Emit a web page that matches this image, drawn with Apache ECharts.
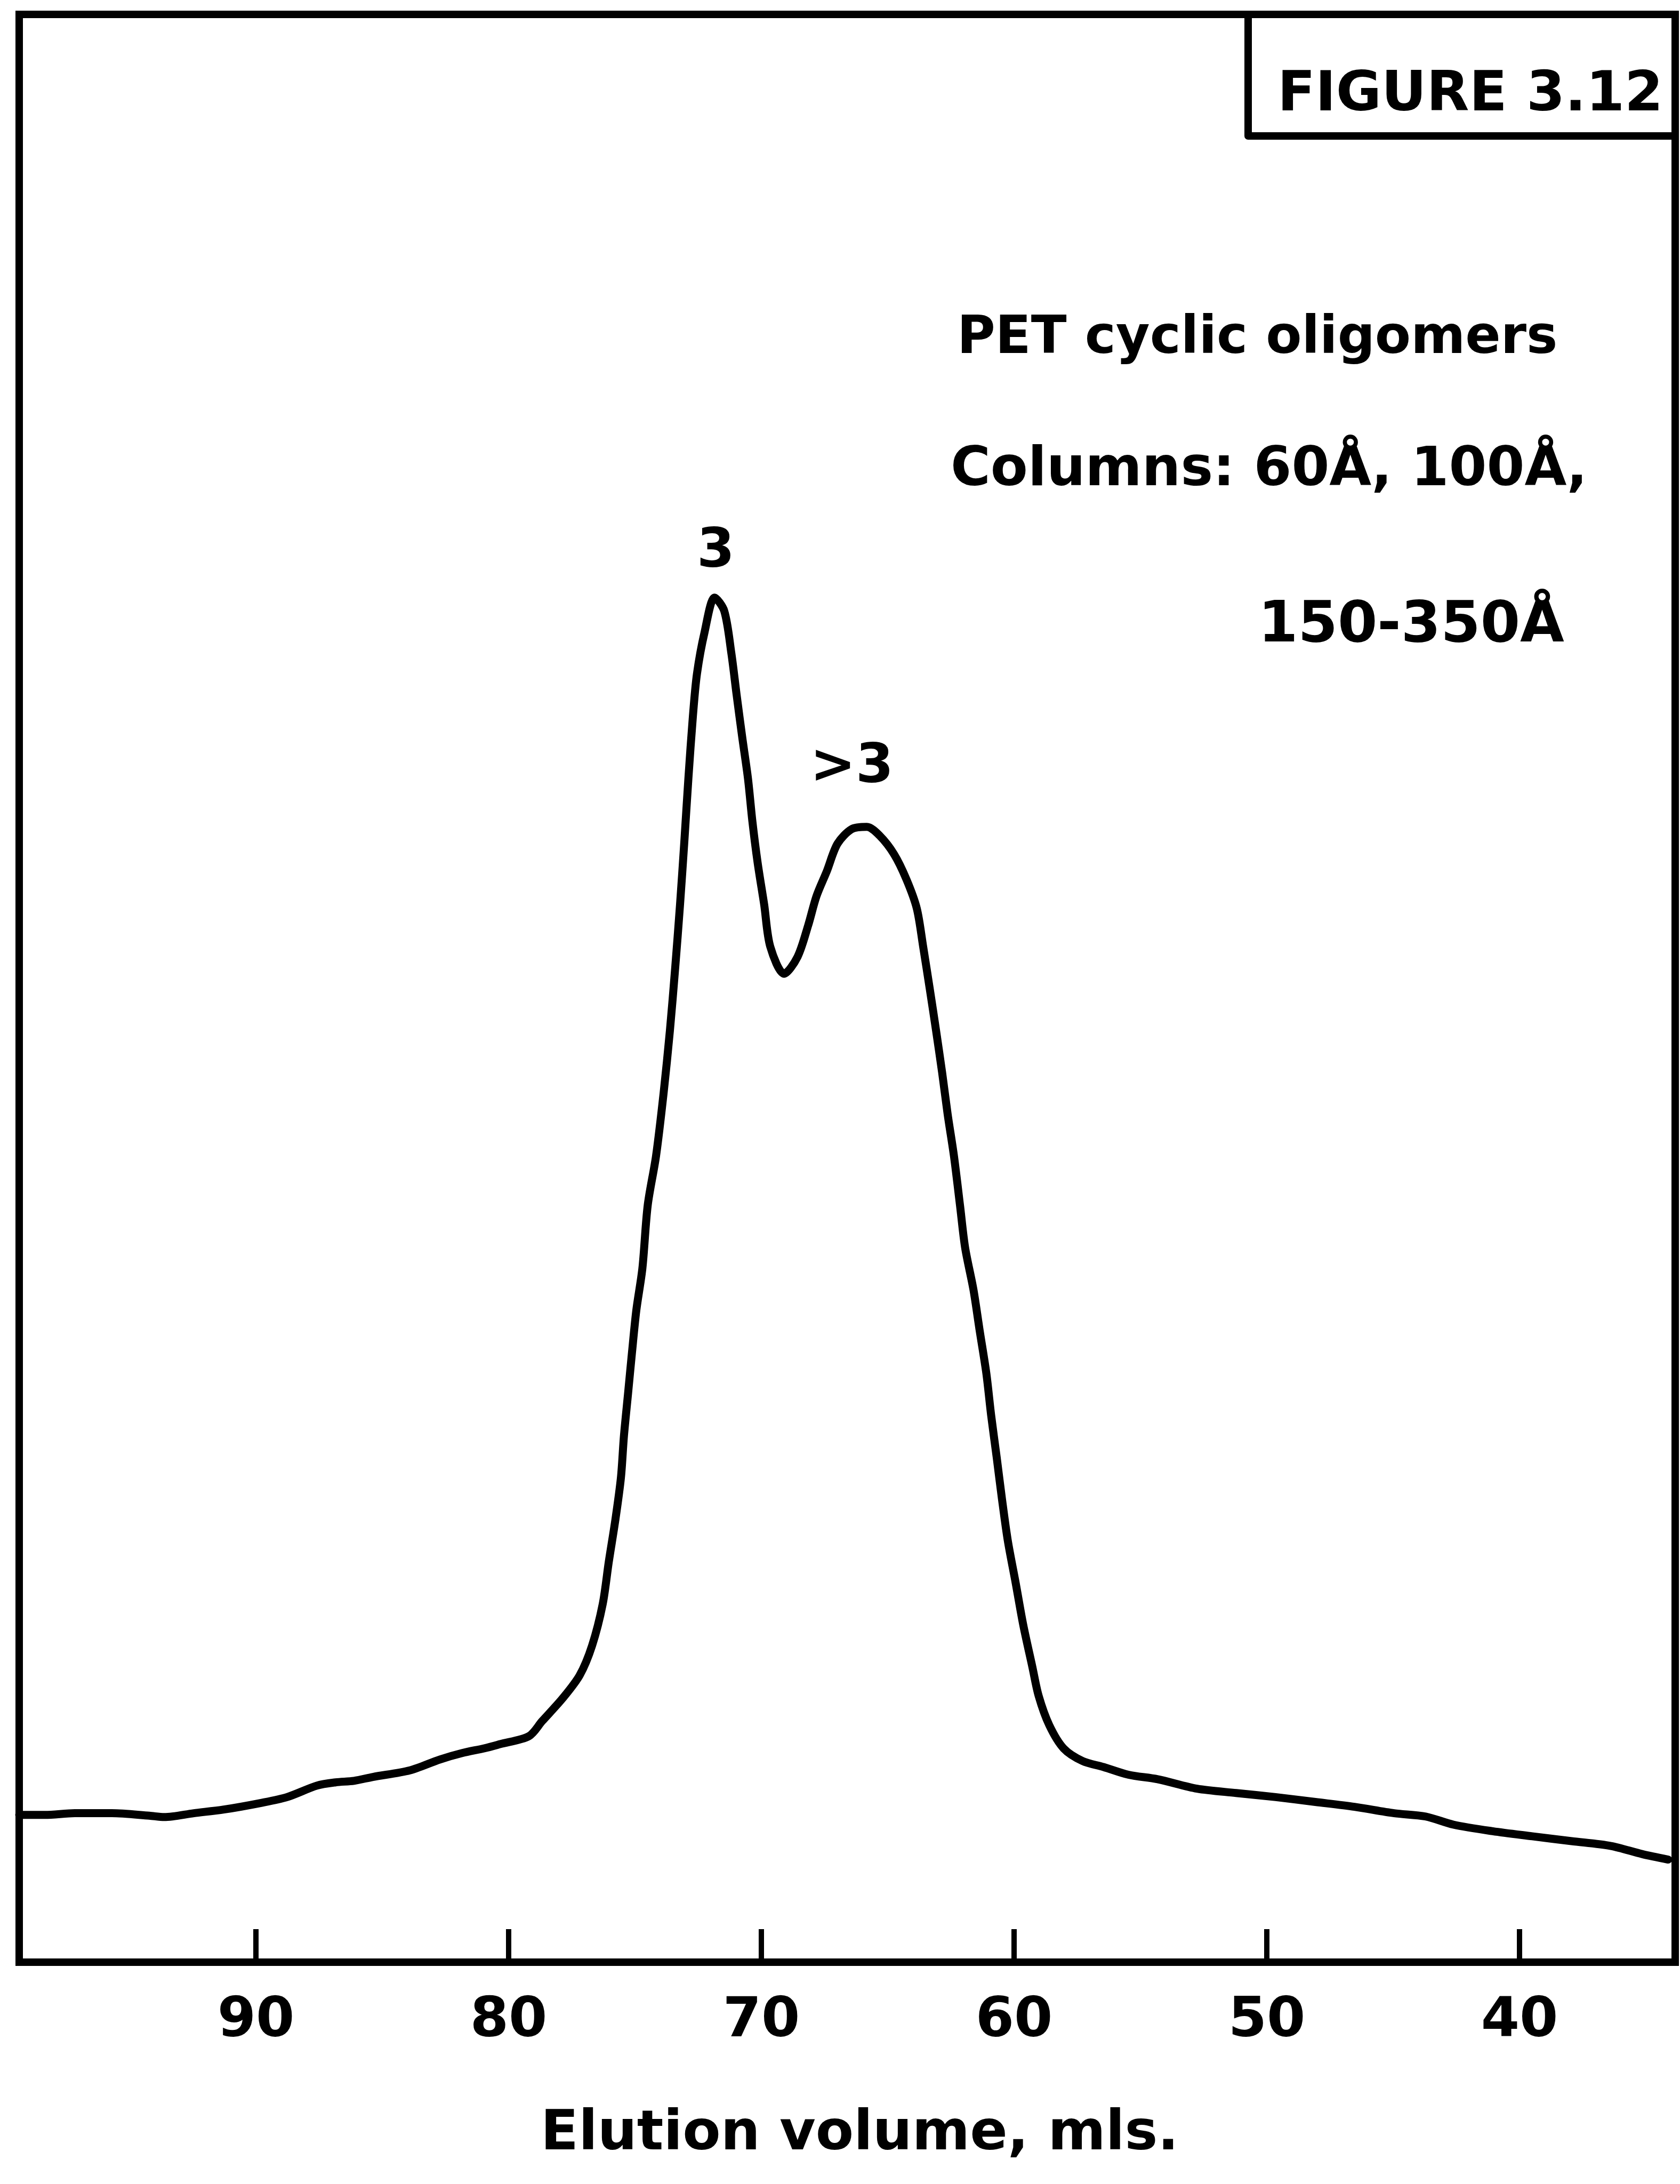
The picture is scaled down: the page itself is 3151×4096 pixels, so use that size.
<!DOCTYPE html>
<html>
<head>
<meta charset="utf-8">
<script src="https://cdn.jsdelivr.net/npm/echarts@6/dist/echarts.min.js"></script>
<style>
html,body{margin:0;padding:0;background:#fff;}
#chart{width:3151px;height:4096px;}
</style>
</head>
<body>
<div id="chart"></div>
<script>
// ---- data ----
const elutionVolume = [
  99.37, 98.35, 97.17, 95.70, 94.22, 93.63, 92.46, 91.27, 89.80, 88.77,
  87.59, 86.85, 86.12, 85.37, 83.91, 82.72, 81.84, 80.95, 80.34, 79.2,
  78.68, 77.86, 77.19, 76.70, 76.28, 76.04, 75.78, 75.56, 75.44, 75.28,
  75.12, 74.95, 74.71, 74.50, 74.17, 73.87, 73.62, 73.41, 73.22, 73.05,
  72.89, 72.71, 72.55, 72.25, 71.85, 71.47, 71.19, 70.98, 70.76, 70.53,
  70.36, 70.15, 69.89, 69.65, 69.10, 68.57, 68.15, 67.82, 67.41, 66.99,
  66.42, 65.83, 65.33, 64.75, 64.26, 63.85, 63.60, 63.34, 63.09, 62.85,
  62.63, 62.38, 62.14, 61.94, 61.61, 61.36, 61.10, 60.91, 60.69, 60.48,
  60.25, 59.94, 59.64, 59.28, 59.03, 58.61, 58.04, 57.29, 56.46, 55.47,
  54.32, 52.76, 51.21, 49.65, 48.08, 46.53, 44.96, 43.72, 42.62, 41.06,
  39.50, 37.94, 36.38, 35.14, 34.12
];
const detectorResponse = [
  7.19, 7.19, 7.28, 7.28, 7.15, 7.08, 7.28, 7.47, 7.81, 8.11,
  8.70, 8.87, 8.95, 9.15, 9.49, 10.05, 10.38, 10.63, 10.84, 11.25,
  12.02, 13.21, 14.39, 15.92, 18.06, 20.23, 22.39, 24.56, 26.72, 28.87,
  31.04, 33.20, 35.36, 38.60, 41.15, 44.40, 47.63, 50.88, 54.11, 57.36,
  60.60, 63.84, 66.01, 68.15, 69.94, 69.25, 67.08, 64.92, 62.75, 60.60,
  58.44, 56.28, 54.11, 51.95, 50.55, 51.42, 53.04, 54.55, 55.84, 57.25,
  58.01, 58.12, 57.68, 56.71, 55.41, 53.91, 51.95, 49.79, 47.63, 45.47,
  43.31, 41.15, 38.60, 36.44, 34.27, 32.13, 29.96, 27.80, 25.63, 23.47,
  21.33, 19.16, 16.99, 14.83, 13.33, 11.82, 10.62, 9.97, 9.66, 9.26,
  9.03, 8.54, 8.32, 8.11, 7.86, 7.61, 7.28, 7.11, 6.69, 6.35,
  6.09, 5.84, 5.59, 5.17, 4.89
];
const tickValues = [90, 80, 70, 60, 50, 40];
const peakNames = ['3', '>3'];
const peakVolumes = [71.85, 65.83];
const peakHeights = [69.94, 58.12];
const axisTitle = 'Elution volume, mls.';
const figureTitle = 'FIGURE 3.12';
const noteLines = ['PET cyclic oligomers', 'Columns: 60\u00C5, 100\u00C5,', '150-350\u00C5'];

// ---- chart ----
const FONT = '"DejaVu Sans", "Liberation Sans", sans-serif';
const chart = echarts.init(document.getElementById('chart'), null, {renderer: 'canvas'});

const curve = elutionVolume.map((v, i) => [v, detectorResponse[i]]);
const peaks = peakVolumes.map((v, i) => [v, peakHeights[i], peakNames[i]]);
const peakOffsets = [[2, -84], [-28, -110]];

function txt(text, x, y, size, align) {
  return {
    type: 'text', x: x, y: y, z: 10,
    style: {
      text: text, fill: '#000',
      font: 'bold ' + size + 'px ' + FONT,
      align: align || 'left', verticalAlign: 'middle',
      textAlign: align || 'left', textVerticalAlign: 'middle'
    }
  };
}

chart.setOption({
  animation: false,
  backgroundColor: '#fff',
  grid: {
    left: 36, right: 9, top: 27, bottom: 416,
    show: true, borderColor: '#000', borderWidth: 14, backgroundColor: 'transparent'
  },
  xAxis: {
    type: 'value', inverse: true, min: 33.84, max: 99.37,
    name: axisTitle, nameLocation: 'middle', nameGap: 272,
    nameTextStyle: {color: '#000', fontFamily: FONT, fontWeight: 'bold', fontSize: 104, padding: [0, 0, 0, 47]},
    axisLine: {show: true, onZero: false, lineStyle: {color: '#000', width: 14}},
    axisTick: {show: true, inside: true, length: 62, customValues: tickValues, lineStyle: {color: '#000', width: 10}},
    axisLabel: {show: true, customValues: tickValues, margin: 60, color: '#000', fontFamily: FONT, fontWeight: 'bold', fontSize: 104},
    splitLine: {show: false}
  },
  yAxis: {
    type: 'value', min: -0.4, max: 100, show: false, splitLine: {show: false}
  },
  series: [
    {
      type: 'line', data: curve, smooth: 0.3, symbol: 'none',
      lineStyle: {color: '#000', width: 15, cap: 'round', join: 'round'}
    },
    {
      type: 'scatter', data: peaks, symbolSize: 0, silent: true,
      itemStyle: {opacity: 1, color: '#000'},
      label: {
        show: true, position: 'inside', color: '#000', opacity: 1,
        textBorderWidth: 0,
        fontFamily: FONT, fontWeight: 'bold', fontSize: 102,
        formatter: p => p.data[2]
      },
      labelLayout: p => ({dx: peakOffsets[p.dataIndex][0], dy: peakOffsets[p.dataIndex][1]})
    }
  ],
  graphic: [
    {type: 'polyline', z: 10, shape: {points: [[2341, 27], [2341, 255], [3142, 255]]},
     style: {stroke: '#000', lineWidth: 14, fill: null, lineJoin: 'round'}},
    txt(figureTitle, 2396, 180, 104),
    txt(noteLines[0], 1795, 637, 98),
    txt(noteLines[1], 1783, 883, 102),
    txt(noteLines[2], 2360, 1175, 107)
  ]
});
</script>
</body>
</html>
